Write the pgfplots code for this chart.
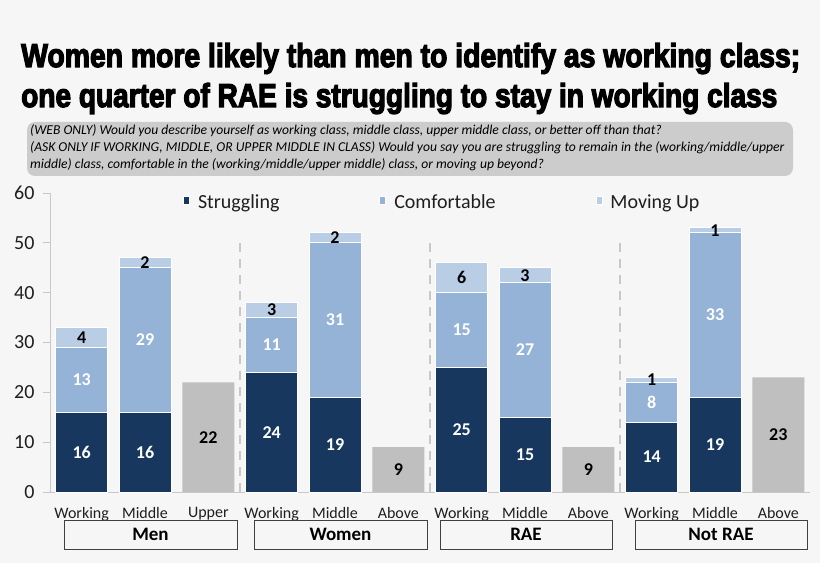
\documentclass[border=0pt]{standalone}
\usepackage{fontspec}
\setmainfont{Carlito}
\newfontfamily\titlefont{Liberation Sans Bold}[FakeBold=4]
\usepackage{pgfplots}
\usepackage{pgfplotstable}
\pgfplotsset{compat=1.18}

\definecolor{navy}{RGB}{23,55,94}
\definecolor{comf}{RGB}{149,179,215}
\definecolor{mov}{RGB}{185,205,229}
\definecolor{barg}{RGB}{191,191,191}
\definecolor{bg}{RGB}{246,246,246}
\definecolor{subbox}{RGB}{204,204,204}
\definecolor{axgray}{RGB}{200,200,200}
\definecolor{boxc}{RGB}{64,64,64}
\definecolor{txt}{RGB}{30,30,30}

\newcommand\fs[1]{\fontsize{#1}{#1}\selectfont}

% struggling / comfortable / moving up
\pgfplotstableread{
x  s  c  m
0  16 13 4
1  16 29 2
3  24 11 3
4  19 31 2
6  25 15 6
7  15 27 3
9  14 8  1
10 19 33 1
}\stacked

% single bars (upper / above)
\pgfplotstableread{
x  g
2  22
5  9
8  9
11 23
}\single

\pgfplotsset{
  ybar legend/.style={/pgfplots/legend image code/.code={%
    \fill[##1,draw=none] (0pt,-4.5pt) rectangle (9pt,4.5pt);}},
  chartgeom/.style={
    at={(50pt,71pt)}, anchor=south west,
    scale only axis, width=760pt, height=299pt,
    xmin=-0.5, xmax=11.5, ymin=0, ymax=60, clip=false,
    /pgf/number format/assume math mode=true},
  % label in the middle of a single bar
  midlabel/.style={
    visualization depends on={rawy \as \rawy},
    nodes near coords,
    every node near coord/.style={anchor=center, inner sep=0pt,
      shift={(axis direction cs:0,-\rawy/2)}, font=\fs{18}\bfseries, text=#1}},
  % stacked segments: already centred
  seglabel/.style={
    nodes near coords,
    every node near coord/.style={anchor=center, inner sep=0pt,
      font=\fs{18}\bfseries, text=#1}},
}

\begin{document}
\begin{tikzpicture}[x=1pt,y=1pt]
\fill[bg] (0,0) rectangle (820,563);

\node[anchor=base west, inner sep=0] at (21,496)
  {\resizebox{779pt}{24pt}{\titlefont Women more likely than men to identify as working class;}};
\node[anchor=base west, inner sep=0] at (21,456)
  {\resizebox{756pt}{24pt}{\titlefont one quarter of RAE is struggling to stay in working class}};

\fill[subbox, rounded corners=8pt] (27,387) rectangle (793,441);
\node[anchor=base west, inner sep=0] at (30,428) {\fs{13.6}\itshape (WEB ONLY) Would you describe yourself as working class, middle class, upper middle class, or better off than that?};
\node[anchor=base west, inner sep=0] at (30,411) {\fs{13.6}\itshape (ASK ONLY IF WORKING, MIDDLE, OR UPPER MIDDLE IN CLASS) Would you say you are struggling to remain in the (working/middle/upper};
\node[anchor=base west, inner sep=0] at (30,394) {\fs{13.6}\itshape middle) class, comfortable in the (working/middle/upper middle) class, or moving up beyond?};

% gray bars and separators
\begin{axis}[chartgeom, hide axis]
\addplot[ybar, bar width=52pt, bar shift=0pt, fill=barg, draw=none, midlabel=black]
  table[x=x, y=g] {\single};
\addplot[axgray, line width=2.5pt, dash pattern=on 9pt off 7pt] coordinates {(2.5,0) (2.5,51)};
\addplot[axgray, line width=2.5pt, dash pattern=on 9pt off 7pt] coordinates {(5.5,0) (5.5,51)};
\addplot[axgray, line width=2.5pt, dash pattern=on 9pt off 7pt] coordinates {(8.5,0) (8.5,51)};
\end{axis}

\begin{axis}[chartgeom,
  ybar stacked, bar width=52pt,
  axis x line*=bottom, axis y line*=left,
  axis line style={draw=axgray, line width=1pt, -},
  xtick={0,...,11},
  xticklabels={Working,Middle,Upper,Working,Middle,Above,Working,Middle,Above,Working,Middle,Above},
  x tick style={draw=none},
  ytick={0,10,...,60},
  y tick style={draw=axgray, line width=1pt},
  tick align=outside, major tick length=7pt,
  yticklabel style={font=\fs{20}, text=txt, xshift=-5pt},
  xticklabel style={font=\fs{16}, text=txt, yshift=-5pt},
  point meta=explicit,
  legend columns=3,
  legend style={draw=none, fill=none, inner sep=0pt, at={(0.175,0.97)}, anchor=west,
    font=\fs{20}, text=txt,
    /tikz/every odd column/.append style={column sep=6pt},
    /tikz/every even column/.append style={column sep=98pt}},
]
\addplot[fill=navy, draw=white, line width=0.8pt, seglabel=white]
  table[x=x, y=s, meta=s] {\stacked};
\addplot[fill=comf, draw=white, line width=0.8pt, seglabel=white]
  table[x=x, y=c, meta=c] {\stacked};
\addplot[fill=mov, draw=white, line width=0.8pt, seglabel=black]
  table[x=x, y=m, meta=m] {\stacked};
\legend{Struggling, Comfortable, Moving Up}
\end{axis}

% group boxes
\begin{scope}[boxc, line width=1pt]
\draw (64,14) rectangle (237,43);
\draw (254,14) rectangle (427,43);
\draw (440,14) rectangle (612,43);
\draw (635,14) rectangle (807,43);
\end{scope}
\node[text=black, font=\fs{19}\bfseries] at (150.5,28.5) {Men};
\node[text=black, font=\fs{19}\bfseries] at (340.5,28.5) {Women};
\node[text=black, font=\fs{19}\bfseries] at (526,28.5) {RAE};
\node[text=black, font=\fs{19}\bfseries] at (721,28.5) {Not RAE};
\end{tikzpicture}
\end{document}
